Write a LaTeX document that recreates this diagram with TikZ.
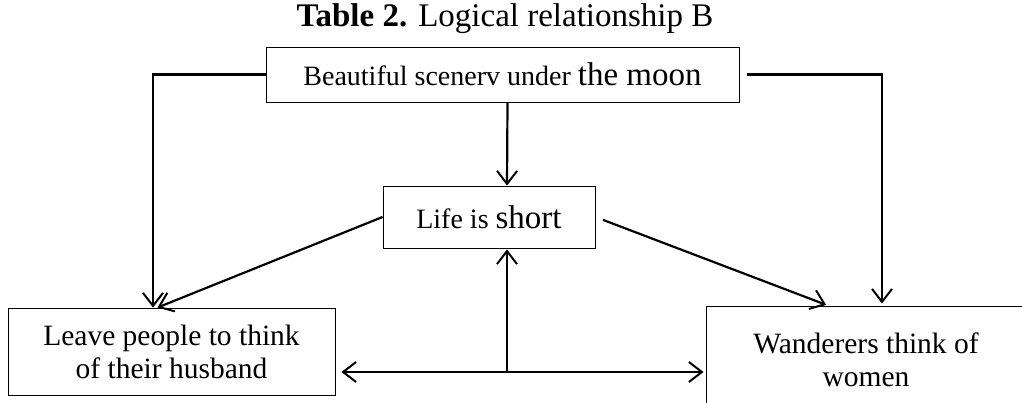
\documentclass[tikz,border=0pt]{standalone}
\usepackage{fontspec}
\setmainfont{Liberation Serif}
\usetikzlibrary{arrows.meta,positioning}

\begin{document}
\begin{tikzpicture}[
  x=1pt, y=-1pt,
  box/.style={draw, line width=0.9pt, align=center, inner sep=0pt},
  big/.style={font=\fontsize{29.5}{33}\selectfont},
  conn/.style={line width=2.2pt},
  >={Straight Barb[length=13pt,width=20pt,line width=2pt]}
]
\useasboundingbox (0,0) rectangle (1022,403);
\node[font=\fontsize{33}{36}\selectfont] (title) at (505,19) {\textbf{Table 2.} Logical relationship B};
\node[box, minimum width=473pt, minimum height=55pt, font=\fontsize{28}{30}\selectfont] (moon) at (502.5,74.5)
  {Beautiful scenerv under {\fontsize{33}{36}\selectfont the moon}};
\node[box, minimum width=212pt, minimum height=62pt, font=\fontsize{28}{30}\selectfont] (life) at (489,217)
  {Life is {\fontsize{33}{36}\selectfont short}};
\node[box, big, minimum width=327pt, minimum height=87pt] (husband) at (171.5,351.5)
  {Leave people to think\\of their husband};
\node[box, big, minimum width=320pt, minimum height=108pt] (women) at (866,360)
  {Wanderers think of\\women};
\coordinate (junc) at (507,372);

\draw[->, conn] (moon.west) -| ([xshift=-18.5pt]husband.north);
\draw[->, conn, shorten <=8pt, shorten >=2pt] (moon.east) -| ([xshift=16pt]women.north);
\draw[->, conn] ([xshift=5pt]moon.south) -- ([xshift=18pt]life.north);
\draw[->, conn] (life.west) -- ([xshift=-14pt]husband.north);
\draw[->, conn, shorten <=8pt, shorten >=2pt] (life.east) -- ([xshift=-38pt]women.north);
\draw[->, conn, shorten >=1pt] (junc) -- (junc |- life.south);
\draw[->, conn, shorten >=6pt] (junc) -- (junc -| husband.east);
\draw[->, conn, shorten >=2pt] (junc) -- (junc -| women.west);
\end{tikzpicture}
\end{document}
